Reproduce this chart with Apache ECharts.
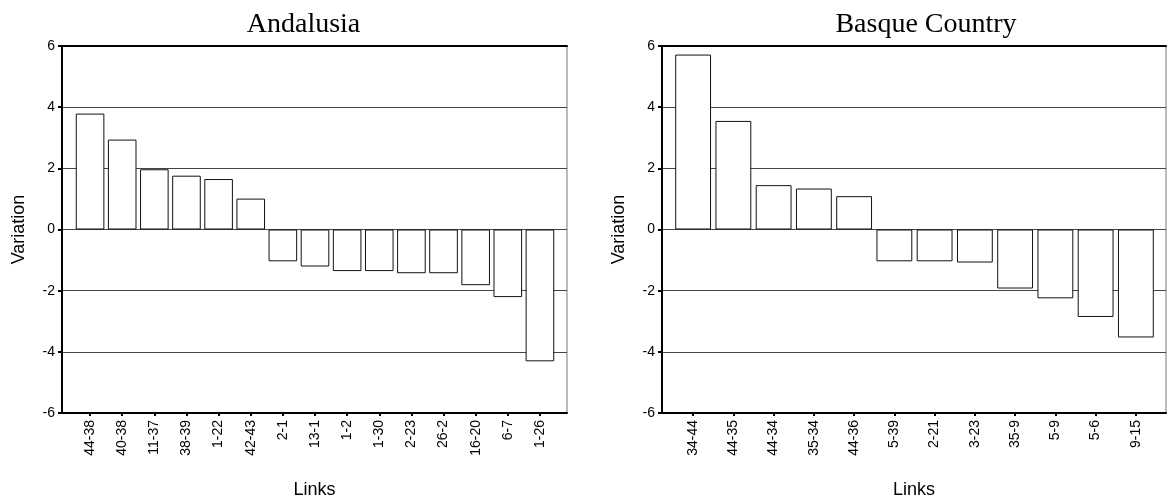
<!DOCTYPE html>
<html>
<head>
<meta charset="utf-8">
<script src="https://cdn.jsdelivr.net/npm/echarts@6/dist/echarts.min.js"></script>
<style>
html,body{margin:0;padding:0;background:#fff;}
#chart{width:1167px;height:502px;}
</style>
</head>
<body>
<div id="chart"></div>
<script>
const titles = ['Andalusia', 'Basque Country'];
const catsA = ['44-38','40-38','11-37','38-39','1-22','42-43','2-1','13-1','1-2','1-30','2-23','26-2','16-20','6-7','1-26'];
const valsA = [3.79, 2.94, 1.97, 1.76, 1.65, 1.01, -1.04, -1.21, -1.36, -1.36, -1.43, -1.43, -1.82, -2.21, -4.31];
const catsB = ['34-44','44-35','44-34','35-34','44-36','5-39','2-21','3-23','35-9','5-9','5-6','9-15'];
const valsB = [5.72, 3.55, 1.45, 1.34, 1.09, -1.04, -1.04, -1.08, -1.93, -2.25, -2.86, -3.53];
const yMin = -6, yMax = 6, yStep = 2;
const yName = 'Variation';
const xName = 'Links';

const SANS = 'Liberation Sans, Arial, sans-serif';
const SERIF = 'Liberation Serif, Times New Roman, serif';

const panels = [
  {outerLeft: 62, outerWidth: 505, innerLeft: 74, innerWidth: 482, titleX: 303.5, cats: catsA, vals: valsA},
  {outerLeft: 662, outerWidth: 504, innerLeft: 673, innerWidth: 483, titleX: 926, cats: catsB, vals: valsB}
];
const TOP = 46, HEIGHT = 367;

const grid = [], xAxis = [], yAxis = [], series = [], title = [];
panels.forEach((p, i) => {
  const go = grid.length;
  grid.push({left: p.outerLeft, top: TOP, width: p.outerWidth, height: HEIGHT,
    outerBoundsMode: 'none', containLabel: false,
    show: true, borderColor: '#777', borderWidth: 1, backgroundColor: 'transparent'});
  grid.push({left: p.innerLeft, top: TOP, width: p.innerWidth, height: HEIGHT,
    outerBoundsMode: 'none', containLabel: false});
  xAxis.push({gridIndex: go, type: 'value', min: 0, max: 1, position: 'bottom',
    axisLine: {show: true, onZero: false, lineStyle: {color: '#000', width: 2}},
    axisTick: {show: false}, axisLabel: {show: false}, splitLine: {show: false},
    name: xName, nameLocation: 'middle', nameGap: 68,
    nameTextStyle: {fontFamily: SANS, fontSize: 18, color: '#000'}});
  xAxis.push({gridIndex: go, type: 'value', min: 0, max: 1, position: 'top',
    axisLine: {show: true, onZero: false, lineStyle: {color: '#000', width: 2}},
    axisTick: {show: false}, axisLabel: {show: false}, splitLine: {show: false}});
  yAxis.push({gridIndex: go, type: 'value', min: yMin, max: yMax, interval: yStep,
    axisLine: {show: true, onZero: false, lineStyle: {color: '#000', width: 2}},
    axisTick: {show: true, length: 4, lineStyle: {color: '#000', width: 2}},
    axisLabel: {fontFamily: SANS, fontSize: 14, color: '#000', margin: 7},
    splitLine: {show: true, lineStyle: {color: '#444', width: 1}},
    name: yName, nameLocation: 'middle', nameGap: 34,
    nameTextStyle: {fontFamily: SANS, fontSize: 18, color: '#000'}});
  xAxis.push({gridIndex: go + 1, type: 'category', data: p.cats, position: 'bottom',
    axisLine: {show: false, onZero: false},
    axisTick: {show: true, alignWithLabel: true, length: 3, lineStyle: {color: '#000', width: 2}},
    axisLabel: {rotate: 90, fontFamily: SANS, fontSize: 14, color: '#000', margin: 7, interval: 0},
    splitLine: {show: false}});
  yAxis.push({gridIndex: go + 1, type: 'value', min: yMin, max: yMax, interval: yStep, show: false});
  series.push({type: 'bar', xAxisIndex: xAxis.length - 1, yAxisIndex: yAxis.length - 1,
    data: p.vals, barCategoryGap: '11%',
    itemStyle: {color: '#fff', borderColor: '#111', borderWidth: 1},
    emphasis: {disabled: true}, silent: true});
  title.push({text: titles[i], left: p.titleX, top: 11, padding: 0,
    textAlign: 'center',
    textStyle: {fontFamily: SERIF, fontSize: 28, fontWeight: 'normal', color: '#000'}});
});

const chart = echarts.init(document.getElementById('chart'), null, {renderer: 'canvas'});
chart.setOption({
  animation: false,
  backgroundColor: '#fff',
  title, grid, xAxis, yAxis, series
});
</script>
</body>
</html>
